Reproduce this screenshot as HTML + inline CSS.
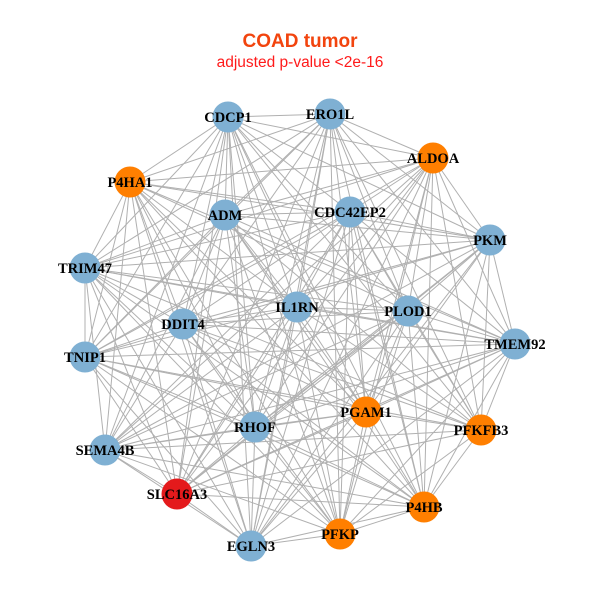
<!DOCTYPE html>
<html><head><meta charset="utf-8"><style>
body{margin:0;background:#fff;width:600px;height:600px;overflow:hidden}
svg{display:block}
</style></head><body>
<svg id="s" width="600" height="600" xmlns="http://www.w3.org/2000/svg">
<text x="300" y="47" text-anchor="middle" font-family="Liberation Sans, sans-serif" font-weight="bold" font-size="19" fill="#f2440e">COAD tumor</text>
<text x="300" y="67" text-anchor="middle" font-family="Liberation Sans, sans-serif" font-size="15.5" fill="#ff1a1a">adjusted p-value &lt;2e-16</text>
<g id="e" stroke="#b0b0b0" stroke-width="1"></g>
<g id="n"></g>
</svg>
<script>
var N=[["CDCP1",228,117,"b"],["ERO1L",330,114,"b"],["ALDOA",433,158,"o"],["P4HA1",130,182,"o"],["ADM",225,215,"b"],["CDC42EP2",350,212,"b"],["PKM",490,240,"b"],["TRIM47",85,268,"b"],["IL1RN",297,307,"b"],["PLOD1",408,311,"b"],["DDIT4",183,324,"b"],["TMEM92",515,344,"b"],["TNIP1",85,357,"b"],["PGAM1",366,412,"o"],["RHOF",255,427,"b"],["PFKFB3",481,430,"o"],["SEMA4B",105,450,"b"],["SLC16A3",177,494,"r"],["P4HB",424,507,"o"],["PFKP",340,534,"o"],["EGLN3",251,546,"b"]];
var C={b:"#7fb0d3",o:"#ff7f00",r:"#e41a1c"};
var ns="http://www.w3.org/2000/svg",e=document.getElementById("e"),g=document.getElementById("n");
for(var i=0;i<N.length;i++)for(var j=i+1;j<N.length;j++){
 if((i*7+j*3)%11==0)continue;
 var l=document.createElementNS(ns,"line");
 l.setAttribute("x1",N[i][1]);l.setAttribute("y1",N[i][2]);l.setAttribute("x2",N[j][1]);l.setAttribute("y2",N[j][2]);e.appendChild(l);}
N.forEach(function(d){
 var c=document.createElementNS(ns,"circle");c.setAttribute("cx",d[1]);c.setAttribute("cy",d[2]);c.setAttribute("r",15.5);c.setAttribute("fill",C[d[3]]);g.appendChild(c);
 var t=document.createElementNS(ns,"text");t.setAttribute("x",d[1]);t.setAttribute("y",d[2]+5);t.setAttribute("text-anchor","middle");
 t.setAttribute("font-family","Liberation Serif, serif");t.setAttribute("font-weight","bold");t.setAttribute("font-size","14.5");t.setAttribute("fill","#000");t.textContent=d[0];g.appendChild(t);});
</script>
</body></html>
